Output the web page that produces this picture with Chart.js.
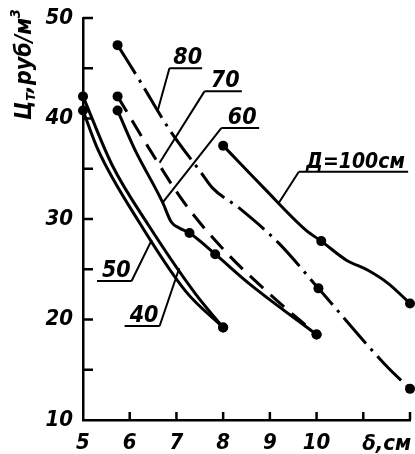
<!DOCTYPE html>
<html>
<head>
<meta charset="utf-8">
<script src="https://cdn.jsdelivr.net/npm/chart.js@4.4.1/dist/chart.umd.min.js"></script>
<style>
  html, body { margin: 0; padding: 0; background: #fff; }
  #wrap { width: 415px; height: 454px; }
</style>
</head>
<body>
<div id="wrap"><canvas id="chart" width="415" height="454"></canvas></div>
<script>
// толщина S, см -> стоимость Цт, руб/м3 для каждого диаметра Д
const s40 = [5, 5.62, 6.4, 7.4, 8];
const c40 = [42.2, 35.4, 29.4, 22.6, 19.2];
const s50 = [5, 5.32, 6.2, 7.2, 8];
const c50 = [40.8, 36.9, 29.7, 22.8, 19.2];
const s60 = [5.74, 6.1, 6.7, 6.89, 7.06, 7.28, 7.83, 8.55, 10];
const c60 = [40.8, 37.0, 31.7, 29.7, 29.1, 28.6, 26.5, 23.6, 18.5];
const s70 = [5.74, 6.43, 7.17, 8.02, 8.98, 10];
const c70 = [42.2, 36.9, 31.6, 26.9, 22.6, 18.5];
const s80 = [5.74, 6.21, 6.85, 7.53, 7.77, 8.34, 9.19, 10.04, 11.47, 12];
const c80 = [47.3, 43.8, 38.9, 34.6, 33.1, 31.1, 27.6, 23.1, 15.5, 13.1];
const s100 = [8, 8.87, 9.77, 10.1, 10.64, 11.1, 11.53, 12];
const c100 = [37.3, 33.1, 28.9, 27.8, 25.9, 24.9, 23.6, 21.6];

const xTickLabels = ['5', '6', '7', '8', '9', '10'];   // 11 и 12 без подписи
const yTickLabels = ['10', '20', '30', '40', '50'];

const FONT = "'DejaVu Sans Condensed', 'Liberation Sans Narrow', sans-serif";

// выноски с подписями кривых (в единицах осей)
const notes = [
    { text: '80', x1: 6.85, x2: 7.55, y: 45.0, tx: 6.6, ty: 40.8, end: 'x1', size: 23 },
    { text: '70', x1: 7.6, x2: 8.4, y: 42.7, tx: 6.64, ty: 35.6, end: 'x1', size: 23 },
    { text: '60', x1: 7.96, x2: 8.77, y: 39.05, tx: 6.7, ty: 31.6, end: 'x1', size: 23 },
    { text: 'Д=100см', x1: 9.62, x2: 11.96, y: 34.7, tx: 9.19, ty: 31.6, end: 'x1', size: 21 },
    { text: '50', x1: 5.3, x2: 6.04, y: 23.83, tx: 6.47, ty: 27.9, end: 'x2', size: 23 },
    { text: '40', x1: 5.89, x2: 6.64, y: 19.35, tx: 7.06, ty: 25.1, end: 'x2', size: 23 }
];

function series(s, c, dots, dash) {
    return {
        data: s.map((x, i) => ({ x: x, y: c[i] })),
        borderColor: '#000',
        borderWidth: 3,
        borderDash: dash,
        pointRadius: s.map((_, i) => dots.includes(i) ? 5 : 0),
        pointBackgroundColor: '#000',
        pointBorderWidth: 0,
        cubicInterpolationMode: 'monotone',
        fill: false,
        clip: false
    };
}

const decor = {
    id: 'decor',
    afterDraw(chart) {
        const ctx = chart.ctx;
        const x = chart.scales.x, y = chart.scales.y;
        const area = chart.chartArea;
        ctx.save();
        ctx.strokeStyle = '#000';
        ctx.fillStyle = '#000';

        // засечки внутрь
        ctx.lineWidth = 2.5;
        y.ticks.forEach(t => {
            if (t.value <= 10) return;
            const py = y.getPixelForValue(t.value);
            ctx.beginPath();
            ctx.moveTo(area.left, py);
            ctx.lineTo(area.left + 10, py);
            ctx.stroke();
        });
        x.ticks.forEach(t => {
            if (t.value <= 5) return;
            const px = x.getPixelForValue(t.value);
            ctx.beginPath();
            ctx.moveTo(px, area.bottom);
            ctx.lineTo(px, area.bottom - 8);
            ctx.stroke();
        });

        // выноски
        notes.forEach(n => {
            const px1 = x.getPixelForValue(n.x1), px2 = x.getPixelForValue(n.x2);
            const py = y.getPixelForValue(n.y);
            const ex = n.end === 'x1' ? px1 : px2;
            ctx.lineWidth = 2;
            ctx.beginPath();
            ctx.moveTo(x.getPixelForValue(n.tx), y.getPixelForValue(n.ty));
            ctx.lineTo(ex, py);
            ctx.moveTo(px1, py);
            ctx.lineTo(px2, py);
            ctx.stroke();
            ctx.font = 'italic bold ' + n.size + 'px ' + FONT;
            ctx.textAlign = 'center';
            ctx.textBaseline = 'alphabetic';
            ctx.fillText(n.text, (px1 + px2) / 2 + 2, py - 4);
        });

        // подпись оси X
        ctx.font = 'italic bold 22px ' + FONT;
        ctx.textAlign = 'center';
        ctx.textBaseline = 'middle';
        ctx.fillText('δ,см', x.getPixelForValue(11.5), 444);

        // подпись оси Y
        ctx.translate(31, 120);
        ctx.rotate(-Math.PI / 2);
        ctx.textAlign = 'left';
        ctx.textBaseline = 'alphabetic';
        let pos = 0;
        const part = (txt, size, dy) => {
            ctx.font = 'italic bold ' + size + 'px ' + FONT;
            ctx.fillText(txt, pos, dy);
            pos += ctx.measureText(txt).width;
        };
        part('Ц', 23, 0);
        part('т', 15, 4);
        part(',руб/м', 23, 0);
        part('3', 14, -11);
        ctx.restore();
    }
};

const tickFont = { family: FONT, size: 22, style: 'italic', weight: 'bold' };

new Chart(document.getElementById('chart'), {
    type: 'line',
    data: {
        datasets: [
            series(s40, c40, [0, s40.length - 1], []),
            series(s50, c50, [0, s50.length - 1], []),
            series(s60, c60, [0, 5, 6, s60.length - 1], []),
            series(s70, c70, [0, s70.length - 1], [18, 10]),
            series(s80, c80, [0, 7, s80.length - 1], [34, 7, 3, 7]),
            series(s100, c100, [0, 3, s100.length - 1], [])
        ]
    },
    options: {
        responsive: false,
        animation: false,
        layout: { padding: { top: 18, right: 3, left: 0, bottom: 0 } },
        plugins: { legend: { display: false }, tooltip: { enabled: false } },
        scales: {
            x: {
                type: 'linear',
                min: 5,
                max: 12,
                afterFit: (scale) => {
                    scale.height = 34;
                    scale.paddingLeft = 0;
                    scale.paddingRight = 0;
                },
                grid: { display: false, drawTicks: false },
                border: { display: true, color: '#000', width: 2.5 },
                ticks: {
                    stepSize: 1,
                    padding: 10,
                    color: '#000',
                    font: tickFont,
                    callback: (v) => xTickLabels.includes(String(v)) ? String(v) : ''
                }
            },
            y: {
                min: 10,
                max: 50,
                afterFit: (scale) => {
                    scale.width = 83;
                    scale.paddingTop = 0;
                    scale.paddingBottom = 0;
                },
                grid: { display: false, drawTicks: false },
                border: { display: true, color: '#000', width: 2.5 },
                ticks: {
                    stepSize: 5,
                    padding: 10,
                    color: '#000',
                    font: tickFont,
                    callback: (v) => yTickLabels.includes(String(v)) ? String(v) : ''
                }
            }
        }
    },
    plugins: [decor]
});
</script>
</body>
</html>
